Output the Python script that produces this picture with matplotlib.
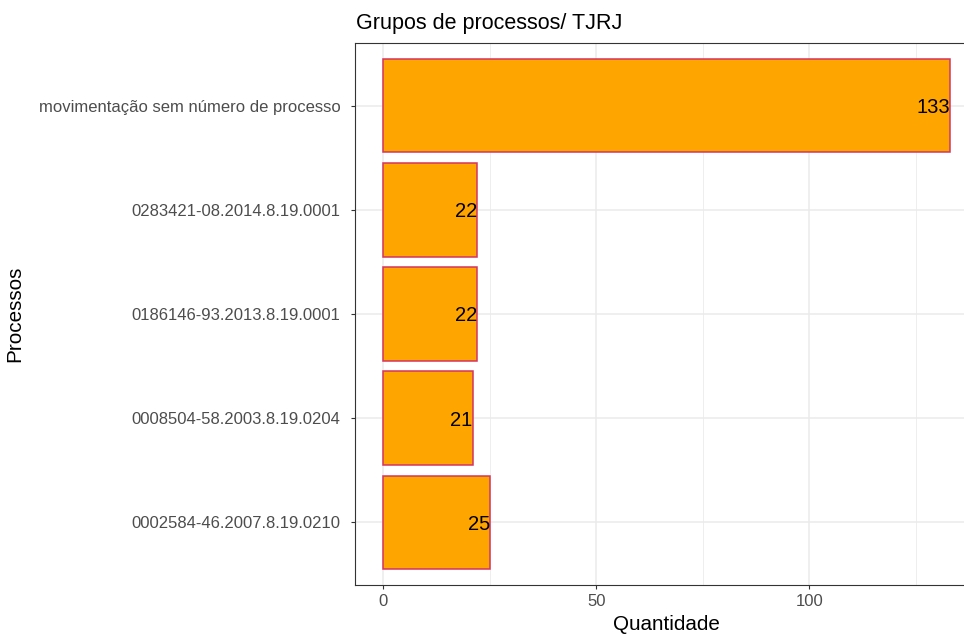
import matplotlib
matplotlib.use("Agg")
import matplotlib.pyplot as plt
from matplotlib.ticker import MultipleLocator

plt.rcParams['font.family'] = ['Liberation Sans', 'DejaVu Sans']

# process groups, bottom to top
processos = ["0002584-46.2007.8.19.0210",
             "0008504-58.2003.8.19.0204",
             "0186146-93.2013.8.19.0001",
             "0283421-08.2014.8.19.0001",
             "movimentação sem número de processo"]
quantidade = [25, 21, 22, 22, 133]

W, H = 964, 635
fig = plt.figure(figsize=(W / 100, H / 100), dpi=100)
# panel runs past the right edge of the canvas
ax = fig.add_axes([355 / W, 50 / H, (978 - 355) / W, (585 - 43) / H])

pos = list(range(1, len(processos) + 1))
ax.barh(pos, quantidade, height=0.9, color="#FFA500", edgecolor="#D4345F",
        linewidth=1.1, zorder=3)
for p, q in zip(pos, quantidade):
    ax.text(q, p, str(q), ha="right", va="center_baseline", fontsize=14.5,
            color="black", zorder=4)

ax.set_xlim(-6.65, 139.65)
ax.set_ylim(0.4, 5.6)
ax.set_yticks(pos)
ax.set_yticklabels(processos)
ax.xaxis.set_major_locator(MultipleLocator(50))
ax.xaxis.set_minor_locator(MultipleLocator(25))

# theme_bw look
ax.set_facecolor("white")
ax.grid(which="major", color="#EBEBEB", linewidth=1.1, zorder=0)
ax.grid(which="minor", axis="x", color="#EBEBEB", linewidth=0.6, zorder=0)
for s in ax.spines.values():
    s.set_color("#333333")
    s.set_linewidth(0.8)
ax.spines["right"].set_visible(False)
ax.tick_params(which="major", length=3, width=0.8, color="#333333",
               labelsize=12, labelcolor="#4D4D4D")
ax.tick_params(axis="y", pad=7.5)
ax.tick_params(axis="x", pad=3.5)
ax.tick_params(which="minor", length=0)

ax.set_xlabel("Quantidade", fontsize=14.9, labelpad=4.5)
ax.set_ylabel("Processos", fontsize=14.9)
ax.yaxis.set_label_coords(-(355 - 24) / (978 - 355), 0.5)
fig.text(356 / W, 1 - 29 / H, "Grupos de processos/ TJRJ", fontsize=15.5,
         ha="left", va="baseline")

fig.savefig("out.png", dpi=100)
